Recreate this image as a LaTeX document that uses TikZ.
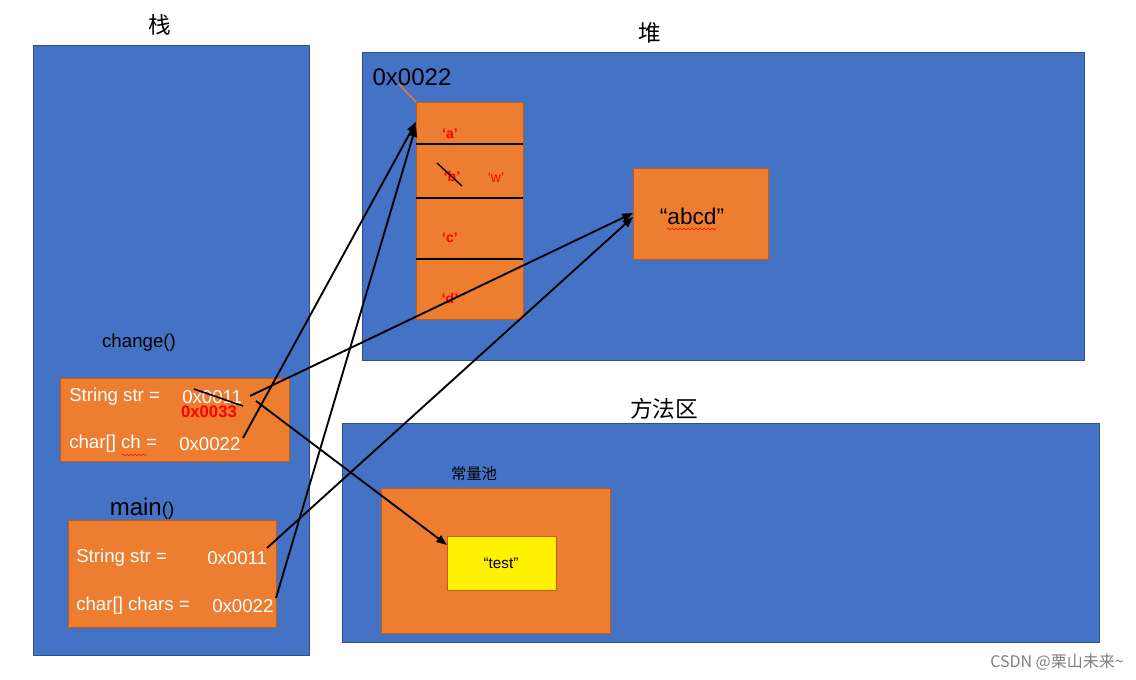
\documentclass[tikz,border=0pt]{standalone}
\usepackage{fontspec}
\setmainfont{Liberation Sans}
\newfontfamily\cjk{Noto Sans CJK SC}
\usetikzlibrary{arrows.meta,decorations.pathmorphing}
\definecolor{bl}{HTML}{4472C4}
\definecolor{og}{HTML}{ED7D31}
\definecolor{ogd}{HTML}{C55A11}
\begin{document}
\begin{tikzpicture}[x=0.75pt,y=-0.75pt,
  area/.style={fill=bl,draw=bl!70!black,line width=0.6pt},
  obox/.style={fill=og,draw=ogd,line width=0.6pt},
  wt/.style={text=white,font=\fontsize{14}{14}\selectfont,anchor=west,inner sep=0},
  rd/.style={text=red,font=\bfseries\fontsize{10.5}{10.5}\selectfont,inner sep=0},
  arr/.style={-{Triangle[length=8pt,width=6pt]},line width=1.4pt},
  ttl/.style={font=\cjk\fontsize{17}{17}\selectfont,inner sep=0}]
\useasboundingbox (0,0) rectangle (1136,680);
\fill[white] (0,0) rectangle (1136,680);
% areas
\draw[area] (33,45) rectangle (309,655);
\draw[area] (362,52) rectangle (1084,360);
\draw[area] (342,423) rectangle (1099,642);
\node[ttl] (tzhan) at (160,25) {栈};
\node[ttl] (tdui) at (650,33) {堆};
\node[ttl] (tfang) at (664,409) {方法区};
% heap array
\draw[obox] (416,102) rectangle (523,319);
\draw[line width=1.2pt] (416,144) -- (523,144) (416,198) -- (523,198) (416,259) -- (523,259);
\node[font=\fontsize{18}{18}\selectfont,inner sep=0] (addr) at (412,77) {0x0022};
\draw[og,line width=1pt] (399,84) -- (416,102);
\node[rd] (ca) at (450,134) {‘a’};
\node[rd] (cb) at (452,177) {‘b’};
\node[text=red,font=\fontsize{10.5}{10.5}\selectfont,inner sep=0] (cw) at (496,178) {‘w’};
\node[rd] (cc) at (450,238) {‘c’};
\node[rd] (cd) at (450,299) {‘d’};
\draw[line width=1pt] (437,163) -- (462,186);
\coordinate (arrtop) at (416,122);
\coordinate (arrtop2) at (416,126);
% abcd
\draw[obox] (633,168) rectangle (768,259);
\node[font=\fontsize{17}{17}\selectfont,inner sep=0] (abcd) at (692,216) {“abcd”};
\draw[red,decorate,decoration={snake,amplitude=0.6pt,segment length=3pt}] (667,229) -- (716,229);
\coordinate (abcdL) at (633,213);
\coordinate (abcdL2) at (633,217);
% constant pool
\node[font=\cjk\fontsize{11.5}{11.5}\selectfont,inner sep=0] (cp) at (474,474) {常量池};
\draw[obox] (381,488) rectangle (610,633);
\draw[fill=yellow,draw=ogd,line width=0.6pt] (447,536) rectangle (556,590);
\node[font=\fontsize{11.5}{11.5}\selectfont,inner sep=0] (test) at (501,563) {“test”};
\coordinate (testTL) at (447,545);
% change()
\node[font=\fontsize{14}{14}\selectfont,inner sep=0] (chg) at (139,343) {change()};
\draw[obox] (60,378) rectangle (289,461);
\node[wt] (s1) at (69,397) {String str =};
\node[wt] (v1) at (182,397) {0x0011};
\node[rd,font=\bfseries\fontsize{12.5}{12.5}\selectfont] (n33) at (209,412) {0x0033};
\draw[line width=1.2pt] (194,389) -- (243,406);
\node[wt] (s2) at (69,444) {char[] ch =};
\node[wt] (v2) at (179,444) {0x0022};
\draw[red,decorate,decoration={snake,amplitude=0.6pt,segment length=3pt}] (122,455) -- (146,455);
% main()
\node[font=\fontsize{18}{18}\selectfont,inner sep=0] (mn) at (142,509) {main\fontsize{14}{14}\selectfont()};
\draw[obox] (68,520) rectangle (276,627);
\node[wt] (s3) at (76,558) {String str =};
\node[wt] (v3) at (207,558) {0x0011};
\node[wt] (s4) at (76,606) {char[] chars =};
\node[wt] (v4) at (212,606) {0x0022};
% connectors
\coordinate (e1) at (250,396);
\coordinate (e1b) at (256,401);
\coordinate (e2) at (243,438);
\coordinate (e3) at (267,548);
\coordinate (e4) at (276,598);
\draw[arr] (e1) -- (abcdL);
\draw[arr] (e1b) -- (testTL);
\draw[arr] (e2) -- (arrtop);
\draw[arr] (e3) -- (abcdL2);
\draw[arr] (e4) -- (arrtop2);
\node[text=gray,font=\fontsize{12}{12}\selectfont\cjk,anchor=east,inner sep=0] (wm) at (1124,662) {CSDN @栗山未来\textasciitilde};
\end{tikzpicture}
\end{document}
